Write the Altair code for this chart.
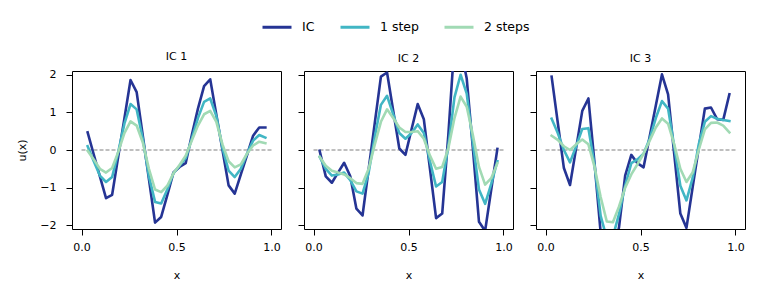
import altair as alt
import pandas as pd

# grid of interior points
x_grid = [i / 31 for i in range(1, 31)]

series_names = ["IC", "1 step", "2 steps"]
series_colors = ["#253494", "#41b6c4", "#a1dab4"]
panel_titles = ["IC 1", "IC 2", "IC 3"]

ic1_ic = [0.47, -0.12, -0.70, -1.28, -1.19, -0.17, 0.84, 1.86, 1.54, 0.38, -0.77, -1.93, -1.78, -1.20, -0.60,
          -0.45, -0.35, 0.40, 1.10, 1.70, 1.88, 0.94, 0.00, -0.94, -1.16, -0.65, -0.14, 0.38, 0.60, 0.60]
ic1_s1 = [0.10, -0.30, -0.68, -0.85, -0.72, -0.05, 0.70, 1.22, 1.08, 0.30, -0.70, -1.38, -1.42, -1.05, -0.62,
          -0.42, -0.22, 0.30, 0.85, 1.28, 1.37, 0.90, 0.05, -0.55, -0.72, -0.50, -0.10, 0.25, 0.40, 0.33]
ic1_s2 = [-0.02, -0.25, -0.50, -0.60, -0.48, -0.05, 0.45, 0.76, 0.65, 0.20, -0.50, -1.05, -1.12, -0.95, -0.62,
          -0.40, -0.15, 0.25, 0.65, 0.95, 1.04, 0.75, 0.15, -0.30, -0.46, -0.38, -0.10, 0.12, 0.22, 0.18]

ic2_ic = [-0.02, -0.70, -0.87, -0.60, -0.34, -0.70, -1.56, -1.74, -0.51, 0.72, 1.95, 2.06, 1.05, 0.04, -0.13,
          0.55, 1.22, 0.82, -0.50, -1.81, -1.69, 0.40, 2.85, 2.70, 1.90, 0.05, -1.91, -2.15, -1.05, 0.03]
ic2_s1 = [-0.18, -0.50, -0.68, -0.65, -0.60, -0.80, -1.10, -1.16, -0.60, 0.35, 1.20, 1.44, 0.95, 0.45, 0.30,
          0.45, 0.68, 0.45, -0.30, -0.97, -0.85, 0.10, 1.40, 2.00, 1.50, 0.20, -1.05, -1.43, -0.90, -0.30]
ic2_s2 = [-0.18, -0.42, -0.55, -0.60, -0.65, -0.75, -0.88, -0.90, -0.50, 0.15, 0.75, 1.08, 0.85, 0.60, 0.48,
          0.48, 0.50, 0.30, -0.15, -0.50, -0.45, 0.05, 0.85, 1.42, 1.15, 0.40, -0.45, -0.92, -0.75, -0.35]

ic3_ic = [1.95, 0.73, -0.48, -0.93, 0.05, 1.04, 1.37, -0.35, -2.20, -2.90, -2.80, -2.05, -0.68, -0.13, -0.35,
          -0.46, 0.36, 1.18, 2.01, 1.48, -0.10, -1.69, -2.07, -1.00, 0.05, 1.10, 1.13, 0.82, 0.80, 1.48]
ic3_s1 = [0.83, 0.45, 0.00, -0.33, 0.10, 0.56, 0.58, -0.40, -1.75, -2.35, -2.30, -1.70, -0.95, -0.35, -0.25,
          -0.10, 0.30, 0.85, 1.30, 1.10, 0.10, -0.95, -1.34, -0.75, 0.15, 0.75, 0.90, 0.83, 0.80, 0.77]
ic3_s2 = [0.38, 0.27, 0.10, 0.00, 0.15, 0.28, 0.15, -0.45, -1.25, -1.90, -1.92, -1.50, -1.00, -0.65, -0.38,
          -0.10, 0.25, 0.60, 0.84, 0.70, 0.15, -0.50, -0.85, -0.60, 0.00, 0.55, 0.72, 0.73, 0.65, 0.47]

zero_x0 = [0.0]
zero_x1 = [1.0]
zero_y = [0.0]

panels = [
    [ic1_ic, ic1_s1, ic1_s2],
    [ic2_ic, ic2_s1, ic2_s2],
    [ic3_ic, ic3_s1, ic3_s2],
]

rows = []
for p, sers in enumerate(panels):
    for name, vals in zip(series_names, sers):
        for xv, uv in zip(x_grid, vals):
            rows.append({"panel": p, "series": name, "x": xv, "u": uv})
df = pd.DataFrame(rows)
zero_df = pd.DataFrame({"x0": zero_x0, "x1": zero_x1, "y0": zero_y})

FONT = "DejaVu Sans"
FS = 11
XDOM = [-0.05, 1.05]
YDOM = [-2.1, 2.1]

color_enc = alt.Color(
    "series:N",
    scale=alt.Scale(domain=series_names, range=series_colors),
    legend=alt.Legend(
        title=None, orient="none", direction="horizontal", legendX=189, legendY=-60,
        symbolType="stroke", symbolSize=841, symbolStrokeWidth=3,
        labelFont=FONT, labelFontSize=12.5, labelColor="black", labelOffset=9,
        columnPadding=19, columns=3,
    ),
)


def make_panel(p):
    xaxis = alt.Axis(values=[0, 0.5, 1], format=".1f", title="x", grid=False, domain=False,
                     tickSize=6, tickColor="black", tickWidth=1, labelPadding=6,
                     labelFont=FONT, labelFontSize=FS, labelColor="black",
                     titleFont=FONT, titleFontSize=FS, titleFontWeight="normal", titleColor="black",
                     titlePadding=17)
    yaxis = alt.Axis(values=[-2, -1, 0, 1, 2], format="d", title="u(x)" if p == 0 else "",
                     labels=(p == 0), grid=False, domain=False,
                     tickSize=6, tickColor="black", tickWidth=1, labelPadding=10,
                     labelFont=FONT, labelFontSize=FS, labelColor="black",
                     titleFont=FONT, titleFontSize=FS, titleFontWeight="normal", titleColor="black",
                     titlePadding=12)
    xscale = alt.Scale(domain=XDOM, nice=False, zero=False)
    yscale = alt.Scale(domain=YDOM, nice=False, zero=False)
    rule = alt.Chart(zero_df).mark_rule(color="#808080", strokeWidth=1.1, strokeDash=[4, 2]).encode(
        x=alt.X("x0:Q", scale=xscale, axis=xaxis),
        x2="x1:Q",
        y=alt.Y("y0:Q", scale=yscale, axis=yaxis),
    )
    dp = df[df.panel == p]
    layers = [rule]
    for name in series_names:
        layers.append(
            alt.Chart(dp).transform_filter(alt.datum.series == name)
            .mark_line(strokeWidth=2.6, clip=True, strokeJoin="round", strokeCap="square")
            .encode(x=alt.X("x:Q", scale=xscale, axis=xaxis),
                    y=alt.Y("u:Q", scale=yscale, axis=yaxis),
                    color=color_enc)
        )
    return alt.layer(*layers).properties(
        width=209, height=158,
        title=alt.TitleParams(panel_titles[p], font=FONT, fontSize=FS, fontWeight="normal",
                              color="black", anchor="middle", offset=7),
    )


chart = (
    alt.hconcat(*[make_panel(p) for p in range(3)], spacing=15)
    .resolve_scale(color="shared")
    .properties(padding={"left": 8, "top": 3, "right": 5, "bottom": 5}, background="white")
    .configure_view(stroke="black", strokeWidth=1)
)

chart.save("out.html", embed_options={"renderer": "svg", "actions": False})
